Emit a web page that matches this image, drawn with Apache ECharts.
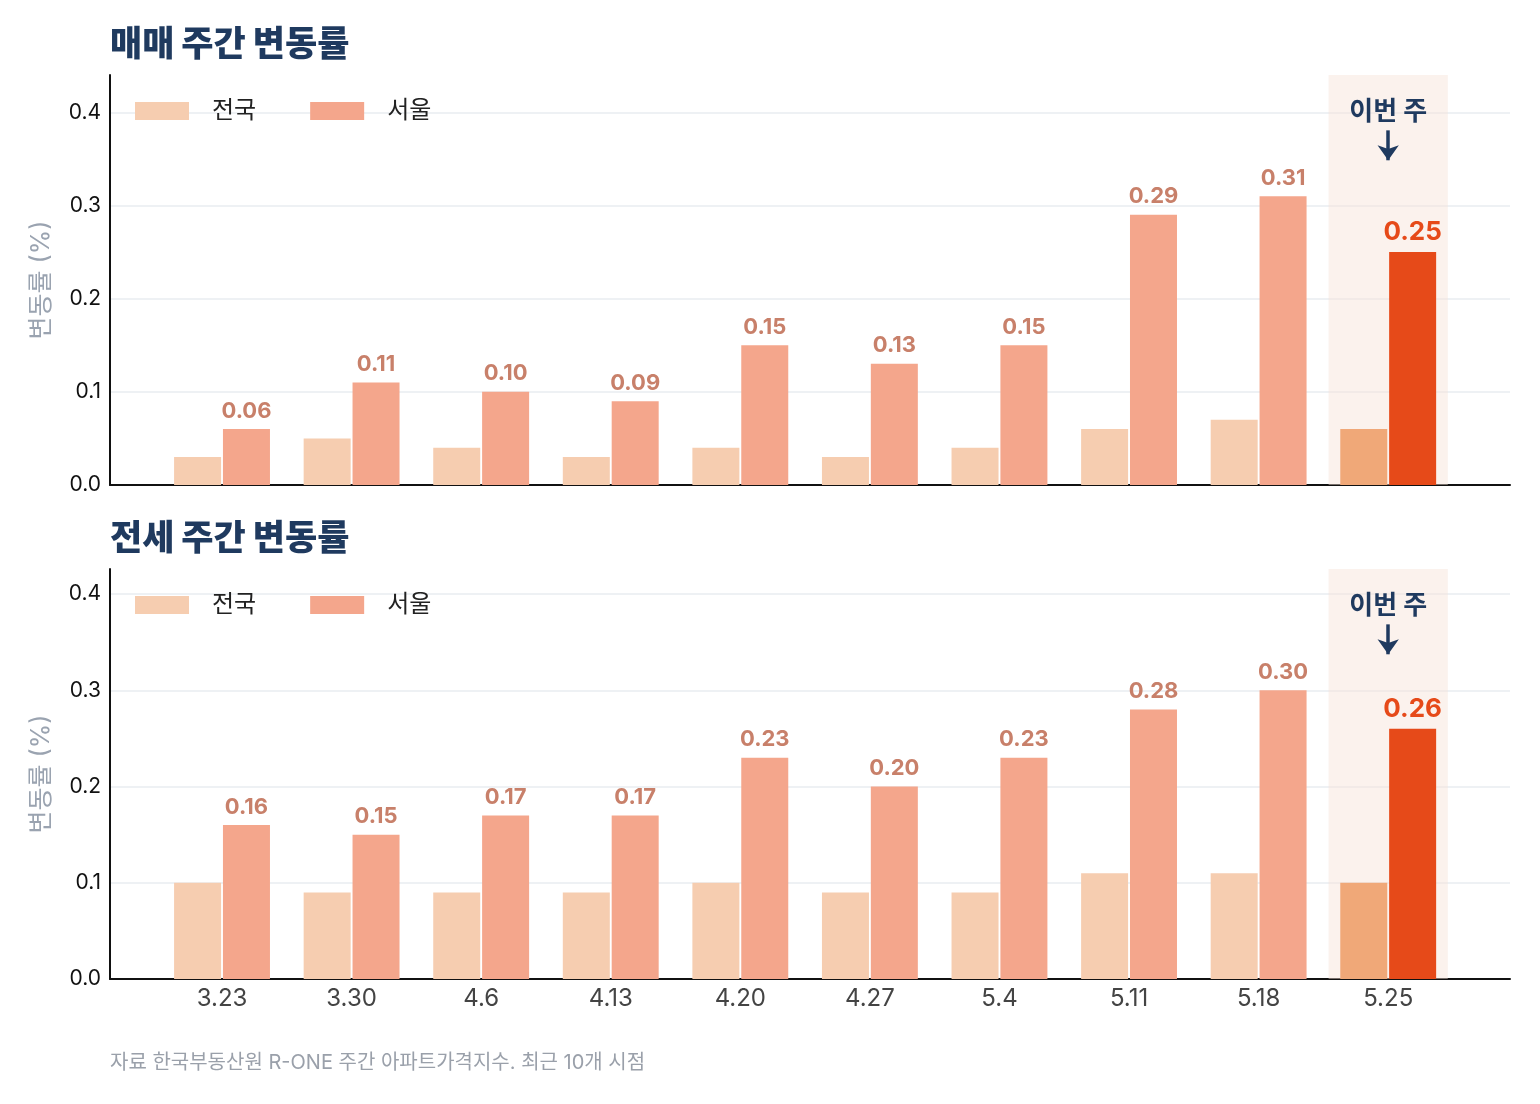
<!DOCTYPE html>
<html>
<head>
<meta charset="utf-8">
<script src="https://cdn.jsdelivr.net/npm/echarts@6/dist/echarts.min.js"></script>
<style>
  html, body { margin: 0; padding: 0; background: #fff; }
  #chart { width: 1540px; height: 1104px; }
</style>
</head>
<body>
<div id="chart"></div>
<script>
// 주간 변동률 데이터
var weeks = ['3.23', '3.30', '4.6', '4.13', '4.20', '4.27', '5.4', '5.11', '5.18', '5.25'];
var saleNation = [0.03, 0.05, 0.04, 0.03, 0.04, 0.03, 0.04, 0.06, 0.07, 0.06];
var saleSeoul = [0.06, 0.11, 0.10, 0.09, 0.15, 0.13, 0.15, 0.29, 0.31, 0.25];
var rentNation = [0.10, 0.09, 0.09, 0.09, 0.10, 0.09, 0.09, 0.11, 0.11, 0.10];
var rentSeoul = [0.16, 0.15, 0.17, 0.17, 0.23, 0.20, 0.23, 0.28, 0.30, 0.26];
var titles = ['매매 주간 변동률', '전세 주간 변동률'];
var note = '자료 한국부동산원 R-ONE 주간 아파트가격지수. 최근 10개 시점';

var font = 'Inter, "Noto Sans CJK KR", sans-serif';
var navy = '#1F3A5F';
var cNation = '#F6CDB0', cSeoul = '#F4A68C';
var cNationNow = '#F0A878', cSeoulNow = '#E64A19';
var last = weeks.length - 1;

var myChart = echarts.init(document.getElementById('chart'));

// [x, y] 형태로 변환, 마지막 주는 강조색
function toData(arr, isSeoul){
	return arr.map(function(v, i){
		var item = { value: [i, v] };
		if(i == last){
			item.itemStyle = { color: isSeoul ? cSeoulNow : cNationNow };
			if(isSeoul){
				item.label = { color: cSeoulNow, fontSize: 26 };
			}
		}
		return item;
	});
}

function makeSeries(idx, nation, seoul, yMax){
	return [{
		name: '전국',
		type: 'bar',
		xAxisIndex: idx,
		yAxisIndex: idx,
		barWidth: 47,
		barGap: '4%',
		itemStyle: { color: cNation },
		data: toData(nation, false),
		markArea: {
			silent: true,
			itemStyle: { color: 'rgba(246,226,214,0.45)' },
			data: [[{ xAxis: last - 0.46 }, { xAxis: last + 0.46 }]]
		}
	}, {
		name: '서울',
		type: 'bar',
		xAxisIndex: idx,
		yAxisIndex: idx,
		barWidth: 47,
		barGap: '4%',
		itemStyle: { color: cSeoul },
		label: {
			show: true,
			position: 'top',
			distance: 7,
			color: '#C8806A',
			fontFamily: font,
			fontWeight: 'bold',
			fontSize: 22,
			formatter: function(p){ return p.value[1].toFixed(2); }
		},
		data: toData(seoul, true)
	}, {
		// 이번 주 표시 (막대 오프셋 없이 카테고리 중앙)
		name: '이번 주',
		type: 'line',
		xAxisIndex: idx,
		yAxisIndex: idx,
		data: [],
		markPoint: {
			silent: true,
			symbol: 'circle',
			symbolSize: 0,
			label: {
				show: true,
				position: 'inside',
				formatter: '이번 주',
				color: navy,
				fontFamily: font,
				fontWeight: 'bold',
				fontSize: 26
			},
			data: [{ coord: [last, yMax * 0.91] }]
		},
		markLine: {
			silent: true,
			symbol: ['none', 'arrow'],
			symbolSize: [16, 15],
			label: { show: false },
			lineStyle: { color: navy, width: 3.5, type: 'solid' },
			data: [[{ coord: [last, yMax * 0.865] }, { coord: [last, yMax * 0.792] }]]
		}
	}];
}

function makeYAxis(idx, yMax){
	return {
		type: 'value',
		gridIndex: idx,
		min: 0,
		max: yMax,
		interval: 0.1,
		name: '변동률 (%)',
		nameLocation: 'middle',
		nameRotate: 90,
		nameGap: 56,
		nameTextStyle: { color: '#9AA3B0', fontSize: 25, fontFamily: font },
		axisLine: { show: true, onZero: false, lineStyle: { color: '#111', width: 2 } },
		axisTick: { show: false },
		axisLabel: {
			color: '#111', fontSize: 21, fontFamily: font, margin: 9,
			showMaxLabel: false,
			formatter: function(v){ return v.toFixed(1); }
		},
		splitLine: { show: true, showMaxLine: false, lineStyle: { color: '#EEF1F4', width: 2 } }
	};
}

function makeXAxis(idx, showLabel){
	return {
		type: 'value',
		gridIndex: idx,
		min: -0.8645,
		max: 9.94,
		axisLine: { show: true, onZero: false, lineStyle: { color: '#111', width: 2 } },
		axisTick: { show: false },
		splitLine: { show: false },
		axisLabel: {
			show: showLabel,
			customValues: weeks.map(function(w, i){ return i; }),
			color: '#444', fontSize: 24, fontFamily: font, margin: 8,
			formatter: function(v){ return weeks[Math.round(v)]; }
		}
	};
}

function makeLegend(top){
	return {
		left: 135, top: top, padding: 0,
		itemWidth: 54, itemHeight: 18, itemGap: 54,
		icon: 'rect',
		textStyle: { color: '#222', fontSize: 24, fontFamily: font, padding: [0, 0, 0, 18] },
		data: ['전국', '서울']
	};
}

var saleMax = 0.44, rentMax = 0.426;

option = {
	backgroundColor: '#fff',
	animation: false,
	title: [{
		text: titles[0], left: 110, top: 28, padding: 0,
		textStyle: { color: navy, fontSize: 35, fontWeight: 900, fontFamily: font }
	}, {
		text: titles[1], left: 110, top: 522, padding: 0,
		textStyle: { color: navy, fontSize: 35, fontWeight: 900, fontFamily: font }
	}, {
		text: note, left: 110, top: 1053, padding: 0,
		textStyle: { color: '#9AA0AA', fontSize: 20, fontWeight: 'normal', fontFamily: font }
	}],
	legend: [makeLegend(99), makeLegend(593)],
	grid: [
		{ left: 110, width: 1400, top: 75, height: 410 },
		{ left: 110, width: 1400, top: 569, height: 410 }
	],
	xAxis: [makeXAxis(0, false), makeXAxis(1, true)],
	yAxis: [makeYAxis(0, saleMax), makeYAxis(1, rentMax)],
	series: makeSeries(0, saleNation, saleSeoul, saleMax).concat(makeSeries(1, rentNation, rentSeoul, rentMax))
};

myChart.setOption(option);
</script>
</body>
</html>
